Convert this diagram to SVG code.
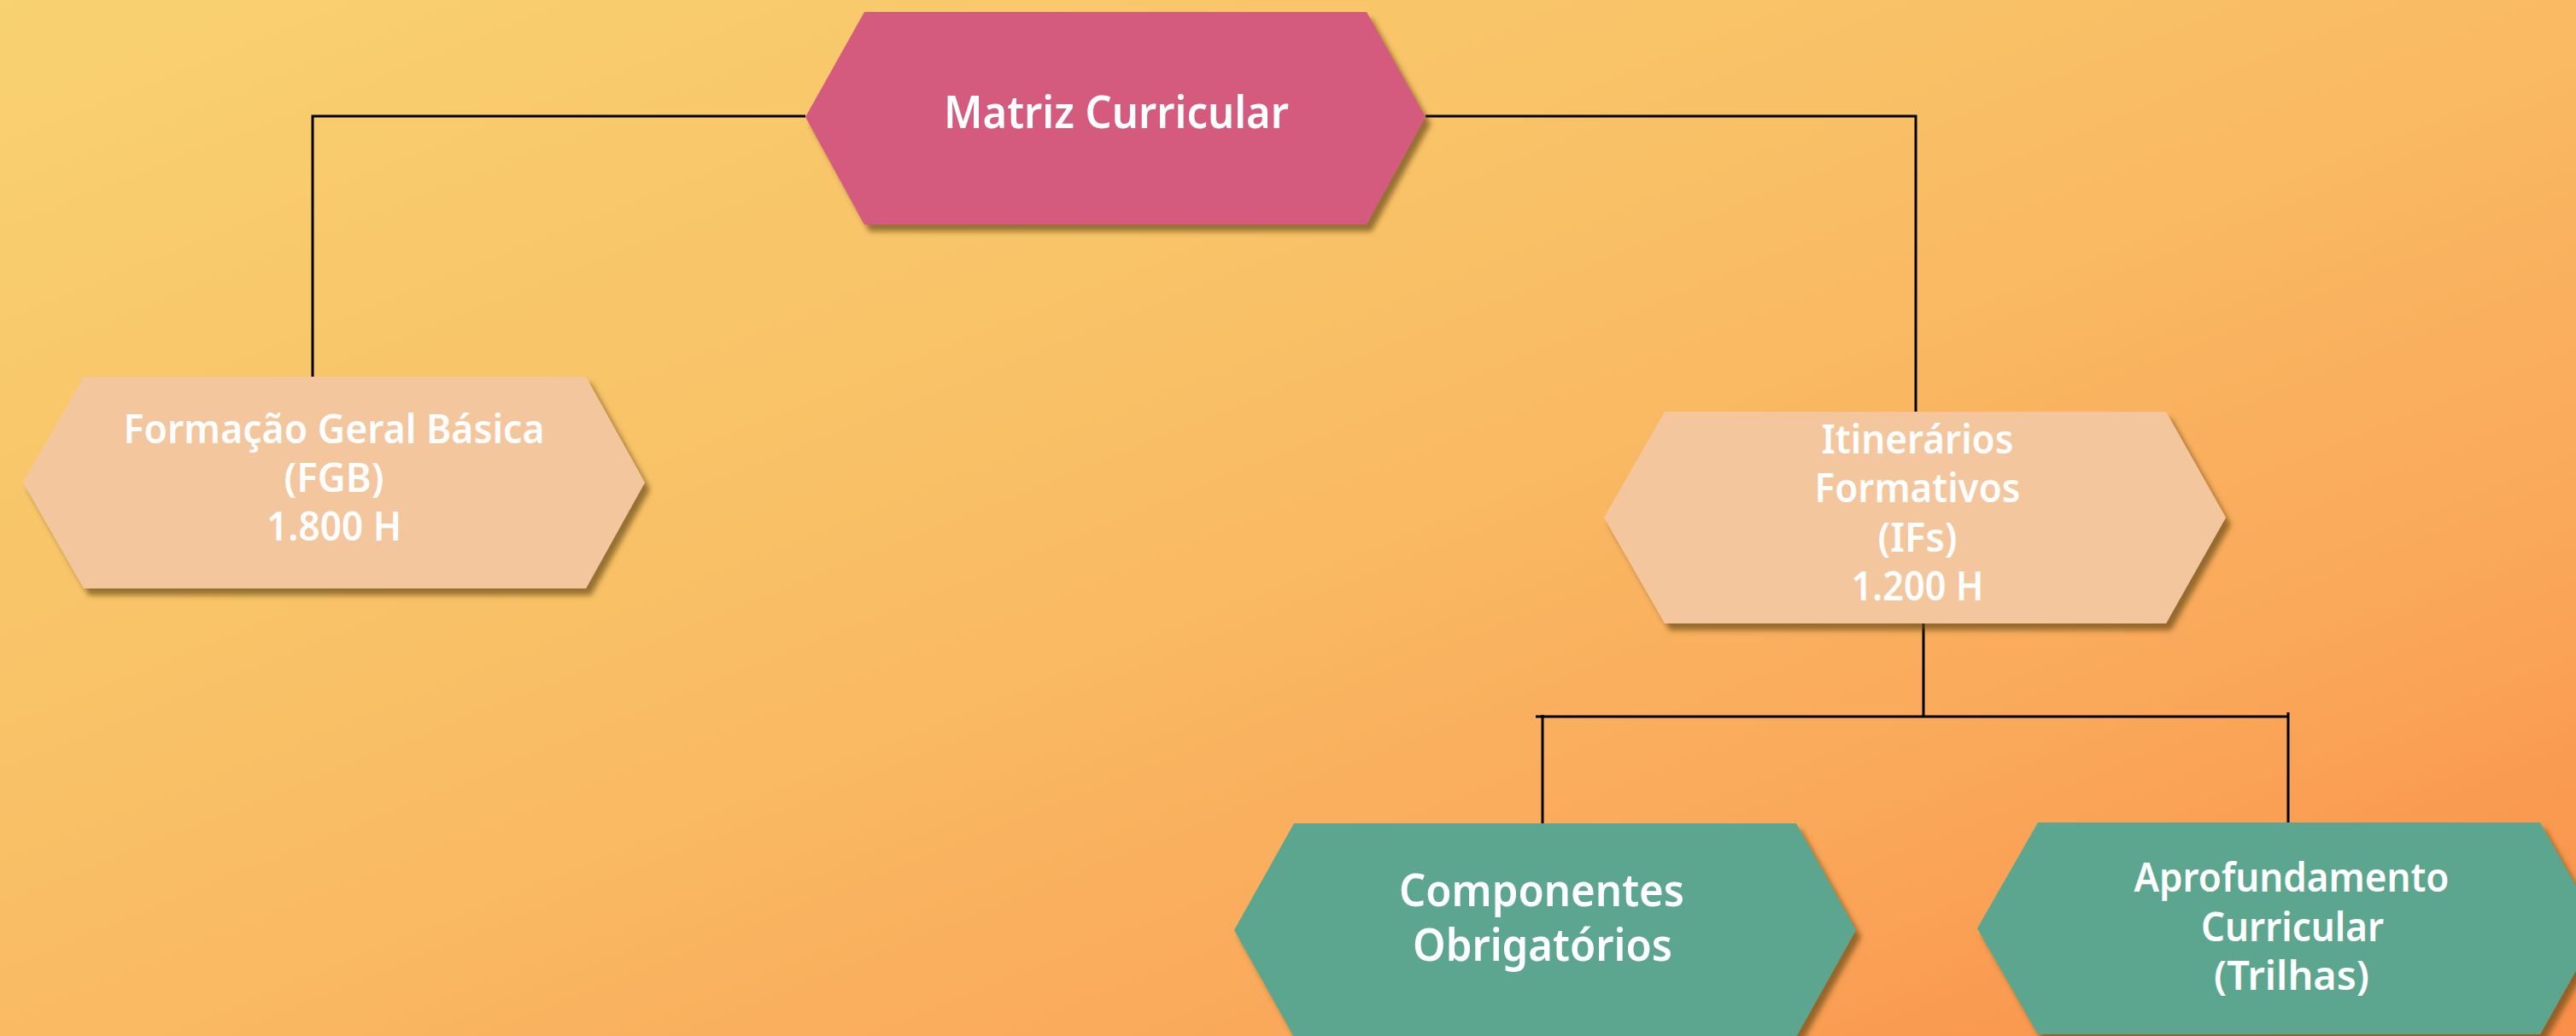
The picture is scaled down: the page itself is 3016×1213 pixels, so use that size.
<svg xmlns="http://www.w3.org/2000/svg" width="3016" height="1213" viewBox="0 0 3016 1213">
  <defs>
    <linearGradient id="bg" x1="0" y1="0" x2="1" y2="1">
      <stop offset="0" stop-color="#F8D170"/>
      <stop offset="0.45" stop-color="#F9BE65"/>
      <stop offset="0.75" stop-color="#FAA85A"/>
      <stop offset="1" stop-color="#F98E48"/>
    </linearGradient>
    <filter id="shadow" x="-10%" y="-10%" width="125%" height="130%">
      <feDropShadow dx="6" dy="8" stdDeviation="3" flood-color="#5e4410" flood-opacity="0.65"/>
    </filter>
  </defs>
  <style>
    .hex { filter: url(#shadow); }
    .pink { fill: #D45A7E; }
    .peach { fill: #F4C69E; }
    .green { fill: #5BA690; }
    .lbl { font-family: "Noto Sans", "Open Sans", sans-serif; font-weight: 600; fill: #FFFFFF; text-anchor: middle; }
    .big { font-size: 52px; }
    .mid { font-size: 46px; }
    .conn { stroke: #000000; stroke-width: 3; fill: none; }
  </style>
  <rect x="0" y="0" width="3016" height="1213" fill="url(#bg)"/>

  <g id="connectors">
    <polyline class="conn" points="943,136 366,136 366,441"/>
    <polyline class="conn" points="1669,136 2243,136 2243,482"/>
    <line class="conn" x1="2252" y1="730" x2="2252" y2="839"/>
    <line class="conn" x1="1798" y1="839" x2="2679" y2="839"/>
    <line class="conn" x1="1806" y1="837" x2="1806" y2="964"/>
    <line class="conn" x1="2679" y1="834" x2="2679" y2="963"/>
  </g>

  <g id="node-matriz">
    <polygon class="hex pink" points="1012,14 1600,14 1669,137 1600,263 1012,263 943,137"/>
    <text class="lbl big" x="1307" y="150" textLength="404" lengthAdjust="spacingAndGlyphs">Matriz Curricular</text>
  </g>

  <g id="node-fgb">
    <polygon class="hex peach" points="98,441 686,441 755,565 686,689 98,689 27,565"/>
    <text class="lbl mid" x="391" y="519" textLength="493" lengthAdjust="spacingAndGlyphs">Formação Geral Básica</text>
    <text class="lbl mid" x="391" y="576" textLength="117" lengthAdjust="spacingAndGlyphs">(FGB)</text>
    <text class="lbl mid" x="391" y="633" textLength="158" lengthAdjust="spacingAndGlyphs">1.800 H</text>
  </g>

  <g id="node-ifs">
    <polygon class="hex peach" points="1949,482 2536,482 2606,606 2536,730 1949,730 1878,606"/>
    <text class="lbl mid" x="2245" y="531" textLength="225" lengthAdjust="spacingAndGlyphs">Itinerários</text>
    <text class="lbl mid" x="2245" y="588" textLength="241" lengthAdjust="spacingAndGlyphs">Formativos</text>
    <text class="lbl mid" x="2245" y="646" textLength="93" lengthAdjust="spacingAndGlyphs">(IFs)</text>
    <text class="lbl mid" x="2245" y="703" textLength="155" lengthAdjust="spacingAndGlyphs">1.200 H</text>
  </g>

  <g id="node-componentes">
    <polygon class="hex green" points="1515,964 2103,964 2173,1089 2103,1214 1515,1214 1445,1089"/>
    <text class="lbl big" x="1805" y="1061" textLength="334" lengthAdjust="spacingAndGlyphs">Componentes</text>
    <text class="lbl big" x="1806" y="1125" textLength="304" lengthAdjust="spacingAndGlyphs">Obrigatórios</text>
  </g>

  <g id="node-aprofundamento">
    <polygon class="hex green" points="2386,963 2974,963 3044,1087 2974,1211 2386,1211 2315,1087"/>
    <text class="lbl mid" x="2683" y="1044" textLength="369" lengthAdjust="spacingAndGlyphs">Aprofundamento</text>
    <text class="lbl mid" x="2684" y="1102" textLength="214" lengthAdjust="spacingAndGlyphs">Curricular</text>
    <text class="lbl mid" x="2683" y="1159" textLength="182" lengthAdjust="spacingAndGlyphs">(Trilhas)</text>
  </g>
</svg>
